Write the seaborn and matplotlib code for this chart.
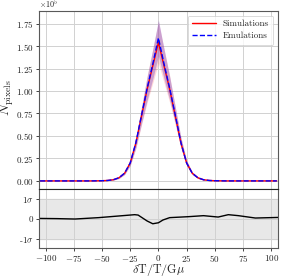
import numpy as np
import pandas as pd
import seaborn as sns
import matplotlib
matplotlib.use("Agg")
import matplotlib.pyplot as plt

# pixel-count histograms, in units of 1e5
bin_centres = [-105, -100, -95, -90, -85, -80, -75, -70, -65, -60, -55, -50, -45, -40,
               -35, -30, -25, -20, -15, -10, -5, 0, 5, 10, 15, 20, 25, 30, 35, 40, 45,
               50, 55, 60, 65, 70, 75, 80, 85, 90, 95, 100, 105]
sim_mean = [0, 0, 0, 0, 0, 0, 0, 0, 0, 0, 0.001, 0.002, 0.005, 0.013,
            0.035, 0.085, 0.2, 0.42, 0.72, 1.02, 1.28, 1.54, 1.28, 1.02, 0.72, 0.42, 0.2, 0.085,
            0.035, 0.013, 0.005, 0.002, 0.001, 0, 0, 0, 0, 0, 0, 0, 0, 0, 0]
sim_std = [0, 0, 0, 0, 0, 0, 0, 0, 0, 0, 0.0005, 0.001, 0.002, 0.004,
           0.008, 0.015, 0.03, 0.06, 0.1, 0.15, 0.19, 0.23, 0.19, 0.15, 0.1, 0.06, 0.03, 0.015,
           0.008, 0.004, 0.002, 0.001, 0.0005, 0, 0, 0, 0, 0, 0, 0, 0, 0, 0]
emu_mean = [0, 0, 0, 0, 0, 0, 0, 0, 0, 0, 0.001, 0.002, 0.005, 0.013,
            0.035, 0.086, 0.2, 0.425, 0.73, 1.03, 1.30, 1.59, 1.30, 1.03, 0.73, 0.425, 0.2, 0.086,
            0.035, 0.013, 0.005, 0.002, 0.001, 0, 0, 0, 0, 0, 0, 0, 0, 0, 0]
emu_std = [0, 0, 0, 0, 0, 0, 0, 0, 0, 0, 0.0005, 0.001, 0.002, 0.004,
           0.008, 0.014, 0.027, 0.055, 0.09, 0.13, 0.165, 0.2, 0.165, 0.13, 0.09, 0.055, 0.027, 0.014,
           0.008, 0.004, 0.002, 0.001, 0.0005, 0, 0, 0, 0, 0, 0, 0, 0, 0, 0]
scale = 1e5

# (emu - sim) / sigma
res_x = [-106, -90, -74, -53, -36, -21, -18, -10, -5, 0, 4, 10, 27, 40, 53, 62, 71, 86, 106]
res_val = [0.03, 0.02, 0.0, 0.07, 0.15, 0.22, 0.2, -0.1, -0.24, -0.19, -0.05, 0.07,
           0.12, 0.17, 0.1, 0.22, 0.17, 0.05, 0.08]

sns.set_style("whitegrid", {"axes.edgecolor": "0.35", "grid.color": "0.82",
                            "xtick.bottom": True, "ytick.left": True})
plt.rcParams["font.family"] = "serif"
plt.rcParams["font.serif"] = ["cmr10", "DejaVu Serif"]
plt.rcParams["mathtext.fontset"] = "cm"
plt.rcParams["axes.formatter.use_mathtext"] = True
plt.rcParams["xtick.major.size"] = 2.5
plt.rcParams["ytick.major.size"] = 2.5
plt.rcParams["xtick.major.width"] = 0.6
plt.rcParams["ytick.major.width"] = 0.6
plt.rcParams["axes.linewidth"] = 0.8
plt.rcParams["grid.linewidth"] = 0.7

df = pd.DataFrame({"x": bin_centres,
                   "sim": np.array(sim_mean) * scale,
                   "sim_std": np.array(sim_std) * scale,
                   "emu": np.array(emu_mean) * scale,
                   "emu_std": np.array(emu_std) * scale})
res = pd.DataFrame({"x": res_x, "r": res_val})

fig = plt.figure(figsize=(2.82, 2.79), dpi=100)
ax = fig.add_axes([0.138, 0.3226, 0.8475, 0.638])
axr = fig.add_axes([0.138, 0.111, 0.8475, 0.2115], sharex=ax)

ax.fill_between(df.x, df.sim - df.sim_std, df.sim + df.sim_std, color="red", alpha=0.15, lw=0)
ax.fill_between(df.x, df.emu - df.emu_std, df.emu + df.emu_std, color="#8e5cc4", alpha=0.45, lw=0)
sns.lineplot(data=df, x="x", y="sim", ax=ax, color="red", lw=1.0, label="Simulations")
sns.lineplot(data=df, x="x", y="emu", ax=ax, color="blue", lw=1.0, ls="--", label="Emulations")

ax.set_xlim(-106, 106)
ax.set_ylim(-0.09e5, 1.89e5)
ax.set_yticks(np.arange(0, 1.76e5, 0.25e5))
ax.set_xticks(np.arange(-100, 101, 25))
ax.ticklabel_format(axis="y", style="sci", scilimits=(0, 0), useMathText=True)
ax.tick_params(labelbottom=False, labelsize=6.5, pad=1.5)
# draw the x10^5 multiplier by hand so it sits inside the canvas
ax.yaxis.get_offset_text().set_visible(False)
ax.text(0.0, 1.004, r"$\times10^{5}$", transform=ax.transAxes, fontsize=5.8,
        ha="left", va="bottom")
ax.set_xlabel("")
ax.set_ylabel(r"$N_{\rm pixels}$", fontsize=10)
ax.yaxis.set_label_coords(-0.097, 0.515)
leg = ax.legend(loc="upper right", fontsize=6.5, frameon=True, borderaxespad=0.5,
                handlelength=2.6, labelspacing=0.4, borderpad=0.5)
leg.get_frame().set_edgecolor("0.8")
leg.get_frame().set_linewidth(0.6)

axr.axhspan(-1, 1, color="0.91", zorder=0)
sns.lineplot(data=res, x="x", y="r", ax=axr, color="black", lw=1.0)
axr.set_ylim(-1.47, 1.52)
axr.set_yticks([-1, 0, 1])
axr.set_yticklabels([r"-1$\sigma$", "0", r"1$\sigma$"])
axr.tick_params(axis="y", labelsize=6.5, pad=1.5)
axr.tick_params(axis="x", labelsize=6.5, pad=0.8)
axr.set_ylabel("")
axr.set_xlabel(r"$\delta\mathrm{T}/\mathrm{T}/\mathrm{G}\mu$", fontsize=8.7)
axr.xaxis.set_label_coords(0.5, -0.245)
axr.spines["top"].set_color("0.15")

fig.savefig("out.png", dpi=100)
